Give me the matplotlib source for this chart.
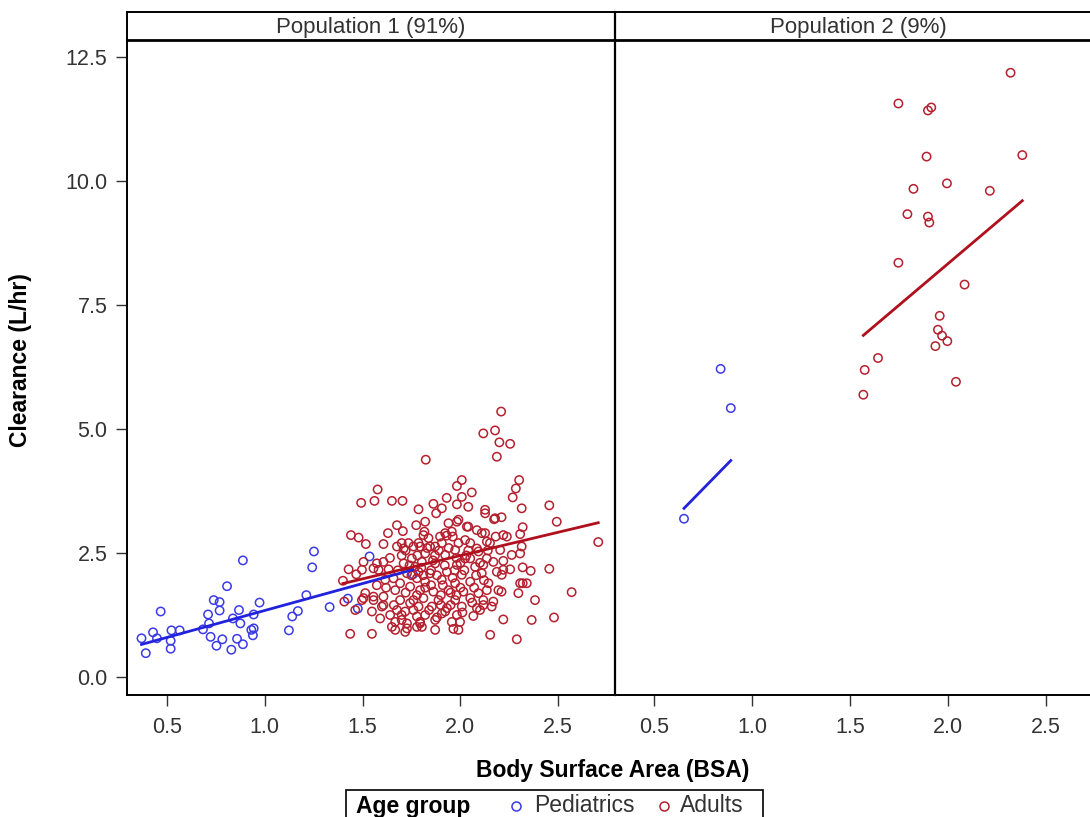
import matplotlib
matplotlib.use("Agg")
import matplotlib.pyplot as plt
import numpy as np
from matplotlib.patches import Rectangle
from matplotlib.lines import Line2D

plt.rcParams['font.family'] = ['Liberation Sans', 'DejaVu Sans']

# ---------------- data ----------------
panel_titles = ["Population 1 (91%)", "Population 2 (9%)"]
group_names = ["Pediatrics", "Adults"]
x_ticks = [0.5, 1.0, 1.5, 2.0, 2.5]
y_ticks = [0.0, 2.5, 5.0, 7.5, 10.0, 12.5]

# Population 1 - pediatrics
p1_ped_bsa = [0.371, 0.393, 0.430, 0.450, 0.469, 0.520, 0.524, 0.520, 0.566, 0.685,
              0.711, 0.716, 0.724, 0.740, 0.770, 0.770, 0.754, 0.784, 0.808, 0.830,
              0.838, 0.869, 0.876, 0.859, 0.889, 0.889, 0.932, 0.940, 0.944, 0.944,
              0.974, 1.124, 1.141, 1.170, 1.213, 1.243, 1.252, 1.332, 1.425, 1.476,
              1.536, 1.757]
p1_ped_cl = [0.78, 0.48, 0.90, 0.78, 1.32, 0.57, 0.94, 0.73, 0.94, 0.96,
             1.26, 1.08, 0.81, 1.55, 1.51, 1.34, 0.63, 0.76, 1.83, 0.55,
             1.18, 1.35, 1.08, 0.77, 0.66, 2.35, 0.95, 0.84, 0.98, 1.26,
             1.50, 0.94, 1.22, 1.33, 1.65, 2.21, 2.53, 1.41, 1.58, 1.38,
             2.43, 2.07]

# Population 1 - adults
p1_adu_bsa = [1.823, 1.577, 1.493, 1.561, 1.650, 1.704, 2.007, 1.982, 1.930, 1.862,
              1.786, 2.007, 2.208, 2.117, 2.177, 2.199, 2.254, 2.186, 2.058, 2.300,
              2.283, 2.267, 2.454, 2.313, 2.126, 2.040, 1.441, 1.480, 1.517, 1.607,
              1.630, 1.676, 1.706, 1.774, 1.820, 1.816, 1.876, 1.905, 1.982, 2.126,
              2.172, 2.210, 2.318, 2.305, 2.492, 2.704, 1.982, 2.033, 2.084, 2.109,
              2.180, 2.219, 2.237, 1.676, 1.700, 1.794, 1.811, 1.922, 1.961, 1.845,
              1.905, 2.050, 2.135, 2.313,
              1.429, 1.468, 1.400, 1.407, 1.437, 1.548, 1.514, 1.497, 1.463, 1.548,
              1.590, 1.573, 1.607, 1.633, 1.556, 1.607, 1.650, 1.667, 1.700, 1.727,
              1.778, 1.794, 1.871, 1.964, 1.998, 2.066, 2.152, 2.219, 2.288, 2.364,
              2.478, 2.568, 2.381, 2.296, 2.318, 2.339, 2.454, 2.359, 2.318, 2.254,
              2.211, 2.194, 2.168, 2.117, 2.100, 2.135, 2.262, 2.305, 2.219, 2.168,
              2.117, 2.050, 2.084, 1.735, 1.710, 1.760, 1.505, 1.497, 1.556, 1.582,
              1.616, 1.658, 1.505, 1.556, 1.607, 1.573, 1.599, 1.641, 1.667, 1.676,
              1.692, 1.667, 1.692, 1.727, 1.710, 1.752, 1.743, 1.743, 1.718, 1.727,
              1.718, 1.778, 1.778, 1.778, 1.769,
              2.177, 1.939, 1.990, 2.040, 1.956, 2.126, 1.837, 1.896, 2.024, 2.151,
              2.203, 1.786, 1.871, 1.973, 2.092, 1.820, 1.922, 2.024, 2.135, 1.803,
              1.871, 1.982, 2.075, 1.786, 1.845, 1.931, 2.007, 2.109, 2.186, 1.820,
              1.905, 1.973, 2.050, 2.143, 1.794, 1.862, 1.939, 2.015, 2.092, 1.811,
              1.888, 1.973, 2.050, 2.117, 1.786, 1.854, 1.931, 2.007, 2.084, 2.160,
              1.820, 1.905, 1.982, 1.794, 1.871, 1.956, 1.922, 1.990, 1.803,
              2.219, 2.305, 2.210,
              1.70, 1.75, 1.72, 1.76, 1.80, 1.83, 1.85, 1.87, 1.88, 1.90,
              1.92, 1.94, 1.95, 1.96, 1.98, 2.00, 2.02, 2.04, 2.06, 2.08,
              1.84, 1.88, 1.95, 1.99, 1.78, 1.82, 1.86, 1.90, 1.93, 1.97,
              2.01, 2.03, 1.74, 1.68, 1.66, 1.64, 1.62, 1.72, 1.85, 1.91,
              2.10, 2.12, 2.14, 2.07, 1.98, 1.89, 1.81, 1.76, 1.70, 2.00]
p1_adu_cl = [4.38, 3.78, 3.51, 3.55, 3.55, 3.55, 3.97, 3.85, 3.61, 3.49,
             3.38, 3.63, 5.35, 4.91, 4.97, 4.73, 4.70, 4.44, 3.72, 3.97,
             3.80, 3.62, 3.46, 3.40, 3.37, 3.43, 2.86, 2.81, 2.68, 2.68,
             2.90, 3.06, 2.94, 3.06, 3.13, 2.93, 3.30, 3.40, 3.48, 3.30,
             3.18, 3.22, 3.02, 2.88, 3.13, 2.72, 3.13, 3.03, 2.96, 2.90,
             2.83, 2.86, 2.83, 2.63, 2.70, 2.63, 2.86, 2.90, 2.83, 2.63,
             2.70, 2.70, 2.73, 2.63,
             2.17, 2.07, 1.94, 1.52, 0.87, 0.87, 1.69, 1.55, 1.35, 1.32,
             1.18, 2.29, 2.32, 2.17, 1.62, 1.45, 1.01, 0.95, 1.15, 0.98,
             1.01, 1.08, 0.95, 0.97, 1.11, 1.23, 0.85, 1.16, 0.76, 1.15,
             1.20, 1.71, 1.55, 1.69, 1.89, 1.89, 2.18, 2.14, 2.21, 2.17,
             2.06, 1.75, 1.52, 1.45, 1.35, 1.75, 2.46, 2.49, 2.34, 2.32,
             2.26, 2.39, 2.59, 2.70, 2.59, 2.63, 2.32, 2.16, 2.19, 2.16,
             1.96, 1.99, 1.59, 1.55, 1.62, 1.85, 1.42, 1.25, 1.11, 1.35,
             1.55, 1.75, 1.89, 2.09, 2.29, 2.39, 1.82, 1.49, 1.32, 1.08,
             0.91, 1.22, 1.65, 1.99, 2.22,
             3.20, 3.10, 3.17, 3.03, 2.93, 2.90, 2.80, 2.83, 2.76, 2.70,
             2.56, 2.70, 2.63, 2.56, 2.53, 2.49, 2.46, 2.39, 2.39, 2.32,
             2.29, 2.26, 2.22, 2.12, 2.09, 2.12, 2.06, 2.09, 2.12, 1.92,
             1.96, 1.89, 1.92, 1.89, 1.75, 1.72, 1.75, 1.72, 1.69, 1.59,
             1.55, 1.55, 1.59, 1.55, 1.42, 1.42, 1.39, 1.42, 1.39, 1.42,
             1.25, 1.28, 1.25, 1.11, 1.15, 1.11, 1.32, 0.95, 1.01,
             2.16, 1.89, 1.72,
             2.45, 2.05, 1.70, 1.55, 2.20, 2.60, 1.85, 2.45, 2.05, 1.65,
             2.25, 2.60, 1.45, 2.00, 2.40, 1.80, 2.15, 2.55, 1.50, 2.05,
             1.35, 1.20, 1.70, 2.70, 2.45, 1.80, 2.35, 1.45, 2.85, 2.15,
             1.30, 2.45, 2.25, 2.15, 1.45, 2.40, 1.80, 2.55, 2.15, 1.85,
             2.30, 1.95, 2.55, 1.80, 1.65, 2.55, 2.05, 1.35, 1.25, 2.30]

# Population 2 - pediatrics
p2_ped_bsa = [0.839, 0.891, 0.652]
p2_ped_cl = [6.21, 5.42, 3.19]

# Population 2 - adults
p2_adu_bsa = [2.320, 1.747, 1.898, 1.915, 1.891, 2.380, 1.995, 1.824, 2.214, 1.793,
              1.898, 1.905, 1.747, 2.085, 1.958, 1.949, 1.970, 1.997, 1.936, 1.643,
              1.575, 1.568, 2.041]
p2_adu_cl = [12.18, 11.56, 11.42, 11.48, 10.49, 10.52, 9.95, 9.84, 9.80, 9.33,
             9.28, 9.16, 8.35, 7.91, 7.28, 7.00, 6.88, 6.77, 6.67, 6.43,
             6.19, 5.69, 5.95]

# fitted regression lines (intercept, slope) per panel / group
p1_ped_fit = (0.253, 1.087)
p1_adu_fit = (0.568, 0.940)
p2_ped_fit = (0.772, 4.03)
p2_adu_fit = (1.646, 3.342)

# ---------------- style ----------------
BLUE_PT = '#3B3BE6'
BLUE_LN = '#2222DD'
RED_PT = '#B5202F'
RED_LN = '#B0101E'
TXT = '#333333'
FS = 15.5
FS_LAB = 16
FS_LEG = 16.5

W, H = 1090, 817
fig = plt.figure(figsize=(W / 100, H / 100), dpi=100)

def fx(px):
    return px / W

def fy(py):
    return 1 - py / H

left0, right0 = 127, 614.5
pw = right0 - left0
top, bot = 40, 695
XLIM = (0.297, 2.787)
YLIM = (-0.363, 12.84)

panels = [
    (p1_ped_bsa, p1_ped_cl, p1_adu_bsa, p1_adu_cl, p1_ped_fit, p1_adu_fit),
    (p2_ped_bsa, p2_ped_cl, p2_adu_bsa, p2_adu_cl, p2_ped_fit, p2_adu_fit),
]

for i, (pbx, pby, abx, aby, pfit, afit) in enumerate(panels):
    lx = left0 + i * pw
    ax = fig.add_axes([fx(lx), fy(bot), pw / W, (bot - top) / H])
    ax.scatter(pbx, pby, s=36, facecolors='none', edgecolors=BLUE_PT, linewidths=1.1, zorder=3)
    ax.scatter(abx, aby, s=36, facecolors='none', edgecolors=RED_PT, linewidths=1.1, zorder=3)
    for bx, fit, col in ((pbx, pfit, BLUE_LN), (abx, afit, RED_LN)):
        xs = np.array([min(bx), max(bx)])
        ax.plot(xs, fit[0] + fit[1] * xs, color=col, lw=2.0, zorder=4)
    ax.set_xlim(*XLIM)
    ax.set_ylim(*YLIM)
    ax.set_xticks(x_ticks)
    ax.set_xticklabels([f"{t:.1f}" for t in x_ticks])
    ax.tick_params(axis='x', length=8, width=1, color='#333333', labelsize=FS,
                   labelcolor=TXT, pad=8, direction='out')
    if i == 0:
        ax.set_yticks(y_ticks)
        ax.set_yticklabels([f"{t:.1f}" for t in y_ticks])
        ax.tick_params(axis='y', length=8, width=1, color='#333333', labelsize=FS,
                       labelcolor=TXT, pad=6, direction='out')
    else:
        ax.set_yticks([])
    for sp in ax.spines.values():
        sp.set_linewidth(1.4)
        sp.set_color('black')
    ax.spines['top'].set_visible(False)
    ax.spines['right'].set_visible(False)
    # header strip
    hx = fig.add_axes([fx(lx), fy(top), pw / W, (top - 12) / H])
    hx.set_xticks([])
    hx.set_yticks([])
    for sp in hx.spines.values():
        sp.set_linewidth(1.4)
    hx.spines['bottom'].set_linewidth(2.0)
    hx.text(0.5, 0.45, panel_titles[i], ha='center', va='center', fontsize=FS_LAB, color=TXT,
            transform=hx.transAxes)

# vertical divider between panels
fig.add_artist(Line2D([fx(right0), fx(right0)], [fy(bot), fy(12)], color='black', lw=1.6))

# axis titles
fig.text(fx(613), fy(770), "Body Surface Area (BSA)", ha='center', va='center',
         fontsize=FS_LAB + 0.5, fontweight='bold', color='black')
fig.text(fx(21), fy(360), "Clearance (L/hr)", ha='center', va='center', rotation=90,
         fontsize=FS_LAB + 0.5, fontweight='bold', color='black')

# legend
fig.add_artist(Rectangle((fx(346), fy(830)), (763 - 346) / W, (830 - 790) / H,
                         transform=fig.transFigure, fill=False, edgecolor='black', lw=1.2))
ly = fy(806)
fig.text(fx(356), ly, "Age group", ha='left', va='center', fontsize=FS_LEG,
         fontweight='bold', color='black')
fig.add_artist(Line2D([fx(516)], [ly], marker='o', ms=6.5, mfc='none', mec=BLUE_PT,
                      mew=1.1, ls='none'))
fig.text(fx(534), ly, group_names[0], ha='left', va='center', fontsize=FS_LEG, color=TXT)
fig.add_artist(Line2D([fx(664)], [ly], marker='o', ms=6.5, mfc='none', mec=RED_PT,
                      mew=1.1, ls='none'))
fig.text(fx(680), ly, group_names[1], ha='left', va='center', fontsize=FS_LEG, color=TXT)

fig.savefig("out.png", dpi=100)
